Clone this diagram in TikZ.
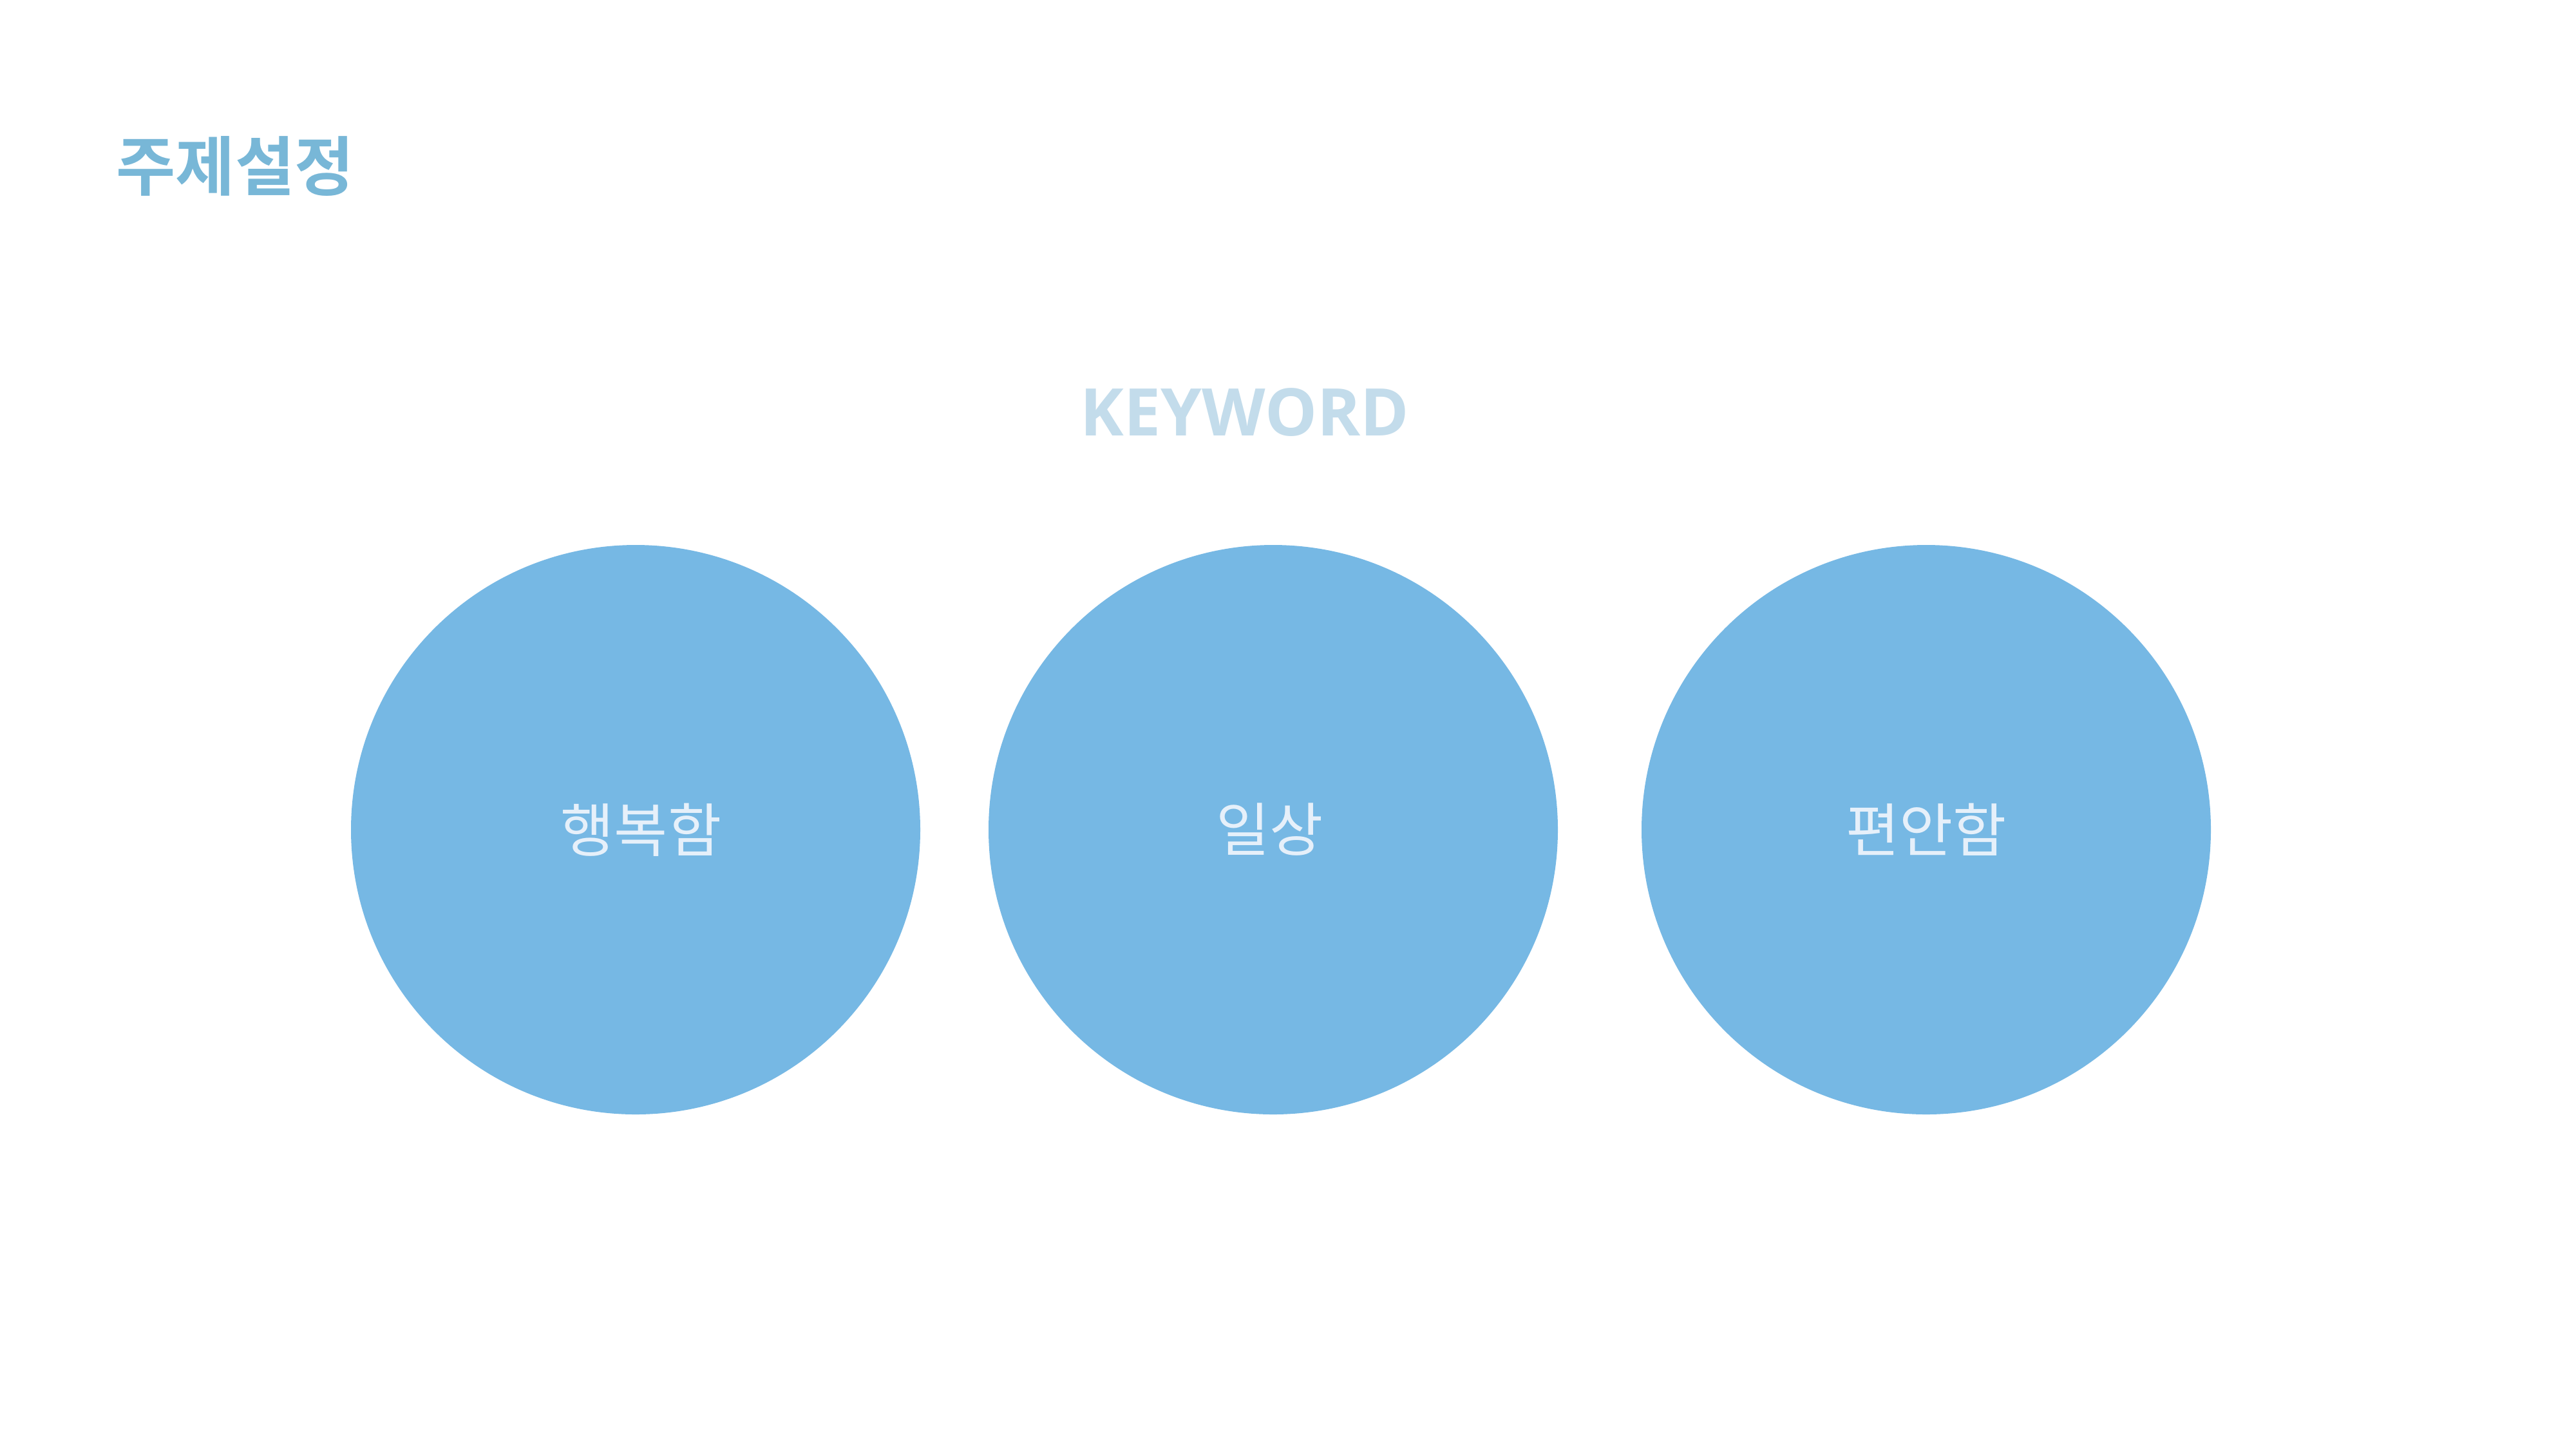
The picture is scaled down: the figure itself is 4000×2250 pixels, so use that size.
\documentclass[tikz,border=0pt]{standalone}
\usepackage{fontspec}
\usepackage{tikz}
\usetikzlibrary{positioning}
\newfontfamily\krfont{Noto Sans CJK KR}
\newfontfamily\krbold{Noto Sans CJK KR Bold}
\setmainfont{Open Sans}
\definecolor{titleblue}{HTML}{78B7D7}
\definecolor{keyblue}{HTML}{C3DCEB}
\definecolor{circblue}{HTML}{76B8E4}
\definecolor{circtext}{HTML}{E6F0FA}
\tikzset{
  keycircle/.style={circle, fill=circblue, minimum size=884*0.01cm, inner sep=0pt,
    text=circtext, font=\krfont\fontsize{25.7}{30}\selectfont},
}

\begin{document}
\begin{tikzpicture}[x=0.01cm, y=-0.01cm]

    % Page frame
    \useasboundingbox (0,0) rectangle (4000,2250);
    \fill[white] (0,0) rectangle (4000,2250);

    % Title at the top left
    \node[text=titleblue, font=\krbold\fontsize{28.5}{34}\selectfont] (title) at (365,258) {주제설정};

    % Heading above the circles
    \node[text=keyblue, font=\bfseries\fontsize{29}{34}\selectfont] (keyword) at (1933,640) {KEYWORD};

    % Three keyword circles
    \node[keycircle] (happy) at (987,1288) {\hspace*{12\pgflinewidth}행복함};
    \node[keycircle] (daily) at (1977,1288) {일상\hspace*{8\pgflinewidth}};
    \node[keycircle] (comfy) at (2991,1288) {편안함};

\end{tikzpicture}
\end{document}
